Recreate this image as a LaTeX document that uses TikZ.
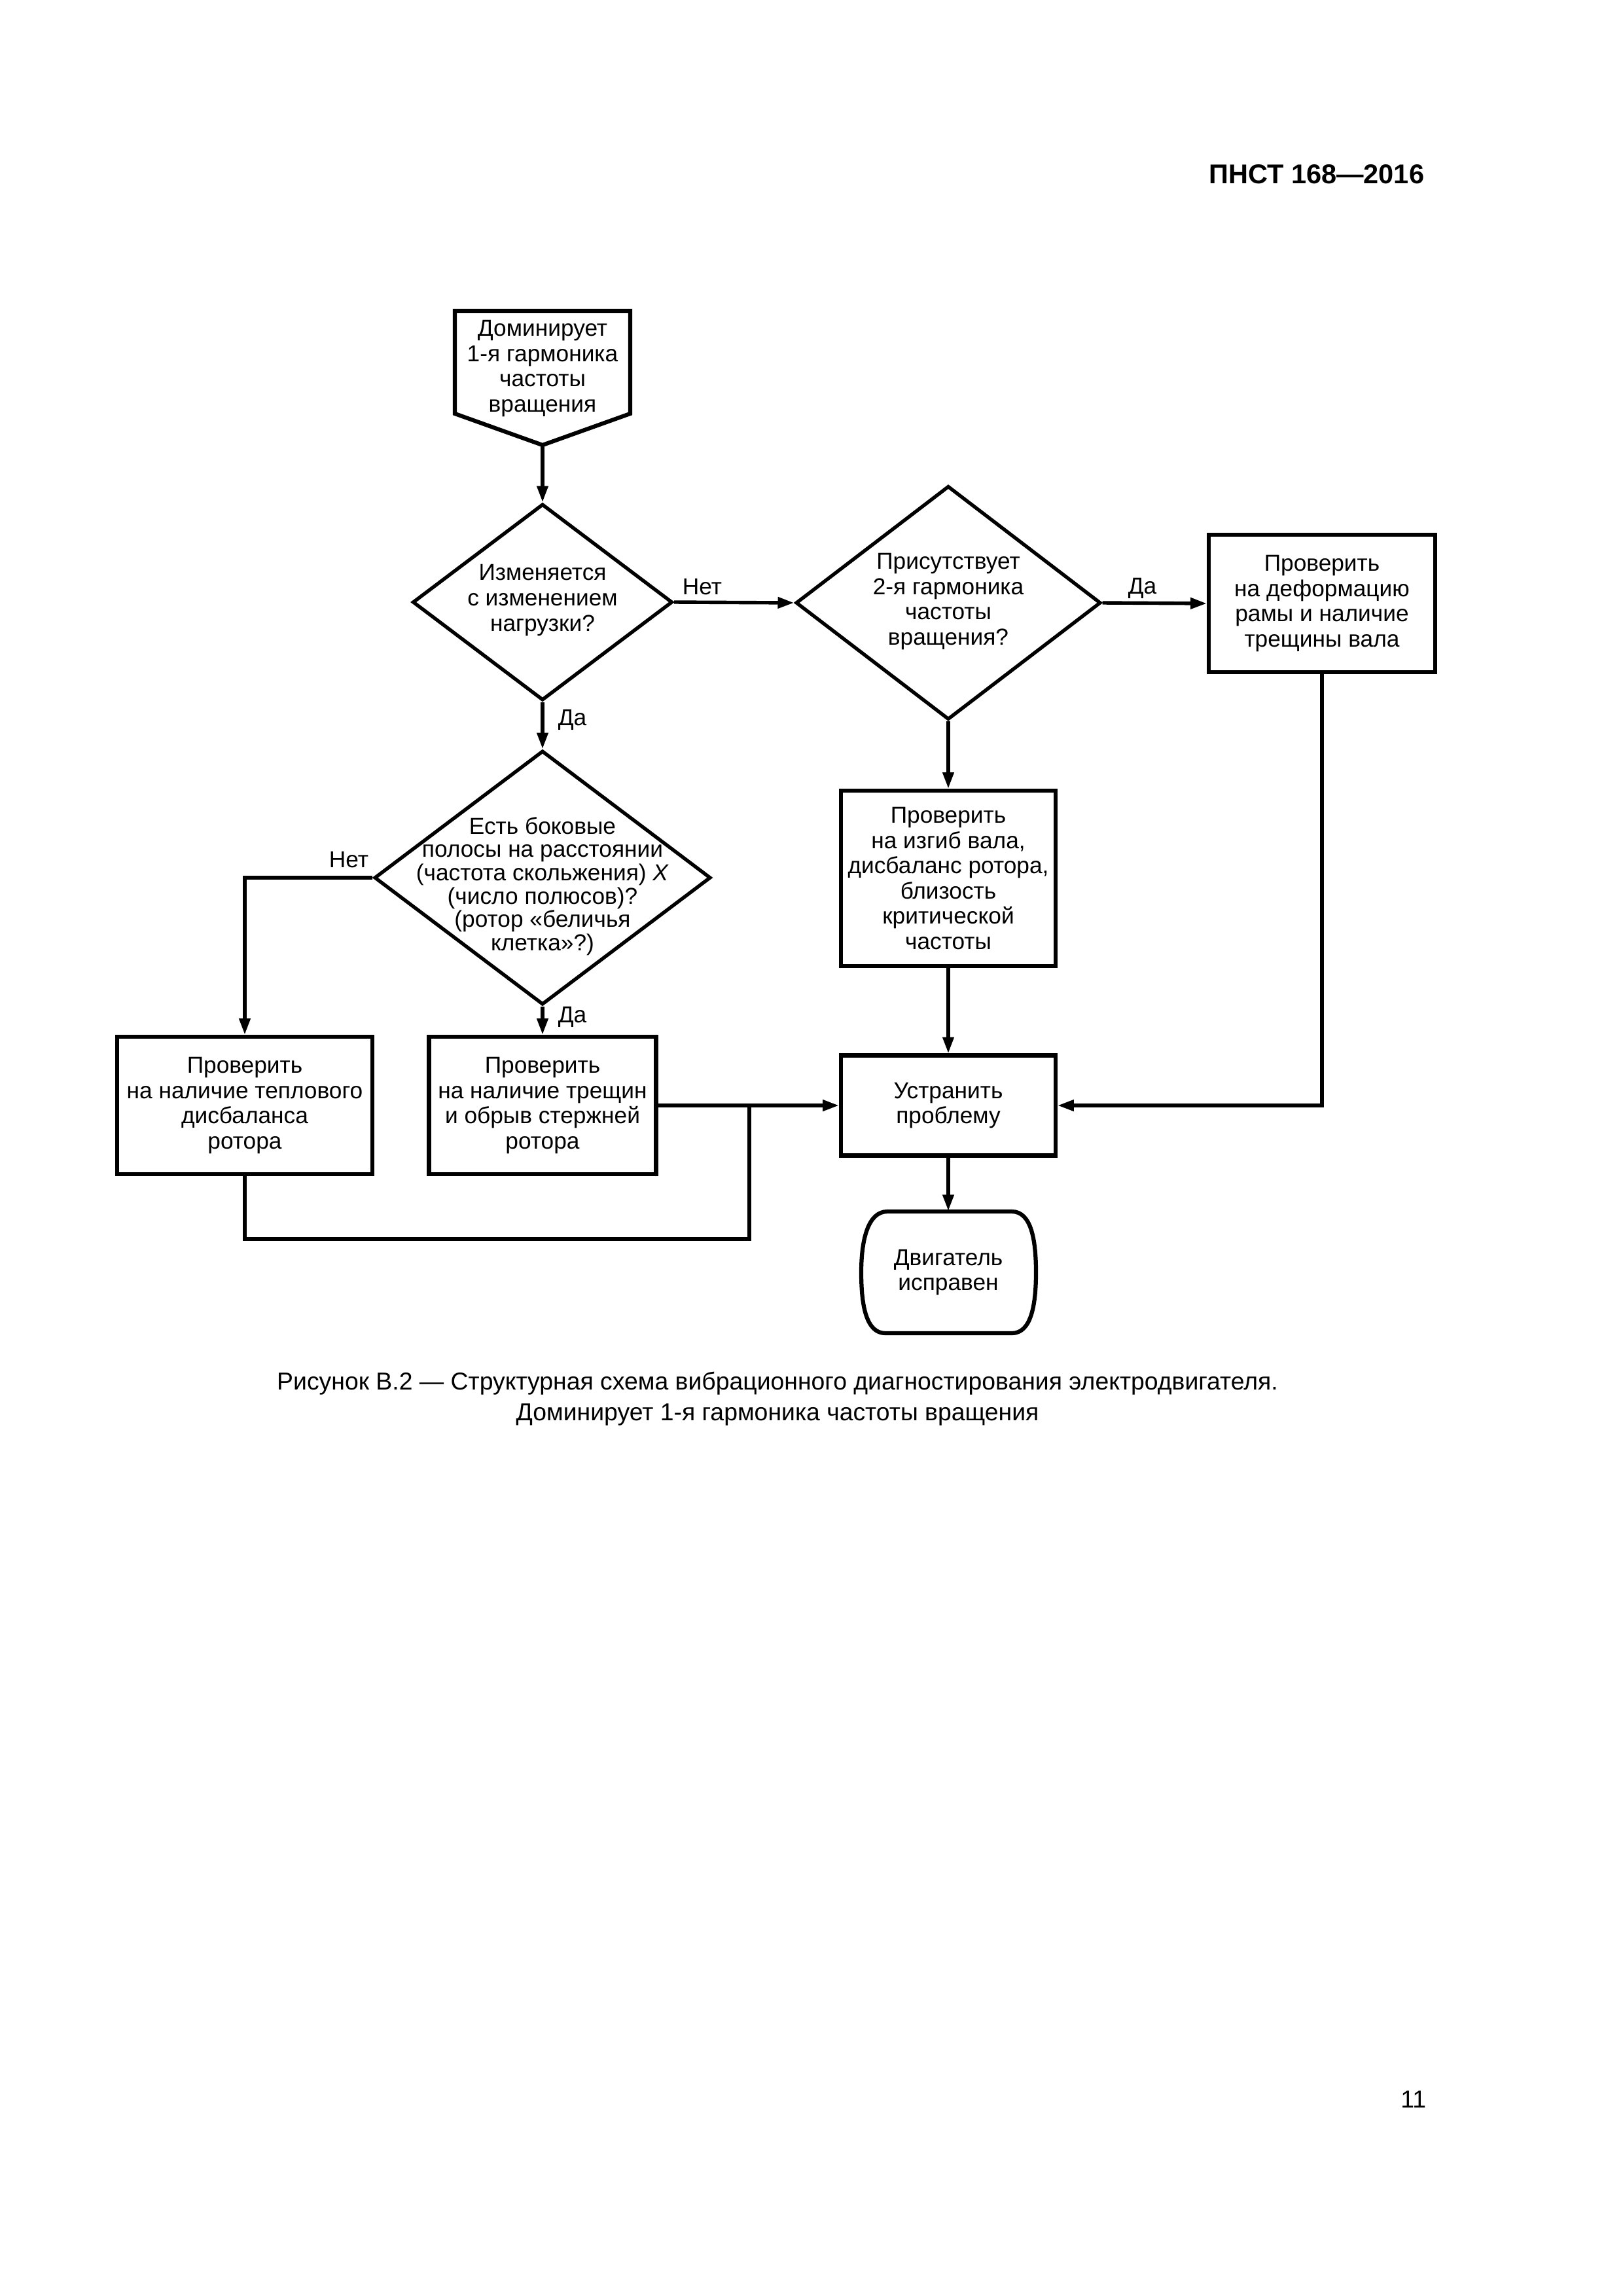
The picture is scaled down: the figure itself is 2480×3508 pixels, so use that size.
\documentclass[tikz,border=0pt]{standalone}
\usepackage{fontspec}
\setmainfont{Liberation Sans}
\usetikzlibrary{arrows.meta,shapes.geometric}
\newlength\pxu
\setlength\pxu{0.0846774mm}
\begin{document}
\begin{tikzpicture}[x=0.0846774mm,y=-0.0846774mm,
  every node/.style={font=\fontsize{8.5}{9.3}\selectfont},
  box/.style={draw,line width=1.5pt,inner sep=0pt,align=center},
  txt/.style={align=center,inner sep=0pt},
  dia/.style={draw,diamond,line width=1.3pt,inner sep=0pt},
  conn/.style={line width=1.3pt,-{Triangle[length=2.1mm,width=1.4mm]}},
  wire/.style={line width=1.3pt},
  lbl/.style={inner sep=0pt,anchor=base west}]
\path[fill=white,use as bounding box] (0,0) rectangle (2480,3508);

% header and page number
\node[anchor=base east,inner sep=0pt,font=\bfseries\fontsize{10}{12}\selectfont] (hdr) at (2177,280) {ПНСТ 168—2016};
\node[anchor=base east,inner sep=0pt,font=\fontsize{9}{11}\selectfont] (pgn) at (2180,3220) {11};

% start (off-page connector shape)
\draw[line width=1.5pt,line join=miter] (695,475) -- (963,475) -- (963,632) -- (829,680) -- (695,632) -- cycle;
\coordinate (sp) at (829,680);
\node[txt] (start) at (829,563) {Доминирует\\1-я гармоника\\частоты\\вращения};

% decisions
\node[dia,minimum width=397*\pxu,minimum height=300*\pxu] (d1) at (829,920) {};
\node[txt] (d1t) at (829,917) {Изменяется\\с изменением\\нагрузки?};

\node[dia,minimum width=466*\pxu,minimum height=357*\pxu] (d2) at (1449,921) {};
\node[txt] (d2t) at (1449,919) {Присутствует\\2-я гармоника\\частоты\\вращения?};

\node[dia,minimum width=514*\pxu,minimum height=388*\pxu] (d3) at (829,1341) {};
\node[txt,font=\fontsize{8.5}{8.6}\selectfont] (d3t) at (829,1354) {Есть боковые\\полосы на расстоянии\\(частота скольжения) \textit{X}\\(число полюсов)?\\(ротор «беличья\\клетка»?)};

% process boxes
\node[box,minimum width=346*\pxu,minimum height=210*\pxu] (frame) at (2020,922) {Проверить\\на деформацию\\рамы и наличие\\трещины вала};
\node[box,minimum width=328*\pxu,minimum height=268*\pxu] (izgib) at (1449,1342) {Проверить\\на изгиб вала,\\дисбаланс ротора,\\близость\\критической\\частоты};
\node[box,minimum width=390*\pxu,minimum height=210*\pxu] (teplo) at (374,1689) {Проверить\\на наличие теплового\\дисбаланса\\ротора};
\node[box,minimum width=347*\pxu,minimum height=210*\pxu] (tresh) at (829,1689) {Проверить\\на наличие трещин\\и обрыв стержней\\ротора};
\node[box,minimum width=328*\pxu,minimum height=153*\pxu] (ustr) at (1449,1689) {Устранить\\проблему};

% terminal
\node[txt,minimum width=265*\pxu,minimum height=186*\pxu] (term) at (1449,1944) {Двигатель\\исправен};
\draw[line width=1.5pt] (1356,1851) -- (1546,1851)
  .. controls (1576,1851) and (1583,1895) .. (1583,1944)
  .. controls (1583,1993) and (1576,2037) .. (1546,2037)
  -- (1353,2037)
  .. controls (1323,2037) and (1316,1993) .. (1316,1944)
  .. controls (1316,1895) and (1326,1851) .. (1356,1851) -- cycle;

% connectors
\draw[conn] (sp) -- (d1.north);
\draw[conn] (d1.east) -- (d2.west);
\node[lbl] (l1) at (1042,908) {Нет};
\draw[conn] (d2.east) -- (frame.west);
\node[lbl] (l2) at (1723,907) {Да};
\draw[conn] (d1.south) -- (d3.north);
\node[lbl] (l3) at (852,1108) {Да};
\draw[conn] (d2.south) -- (izgib.north);
\draw[conn] (d3.west) -| (teplo.north);
\node[lbl] (l4) at (502,1325) {Нет};
\draw[conn] (d3.south) -- (tresh.north);
\node[lbl] (l5) at (852,1562) {Да};
\draw[conn] (izgib.south) -- (ustr.north);
\draw[conn] (ustr.south) -- (term.north);
\draw[conn] (tresh.east) -- (ustr.west);
\coordinate (jn) at (1145,1689);
\coordinate (jb) at (1145,1893);
\draw[wire] (teplo.south) |- (jb) -- (jn);
\draw[conn] (frame.south) |- (ustr.east);

% caption
\node[txt,font=\fontsize{9}{11.3}\selectfont,anchor=base] (cap1) at (1188,2123) {Рисунок В.2 — Структурная схема вибрационного диагностирования электродвигателя.};
\node[txt,font=\fontsize{9}{11.3}\selectfont,anchor=base] (cap2) at (1188,2170) {Доминирует 1-я гармоника частоты вращения};
\end{tikzpicture}
\end{document}
